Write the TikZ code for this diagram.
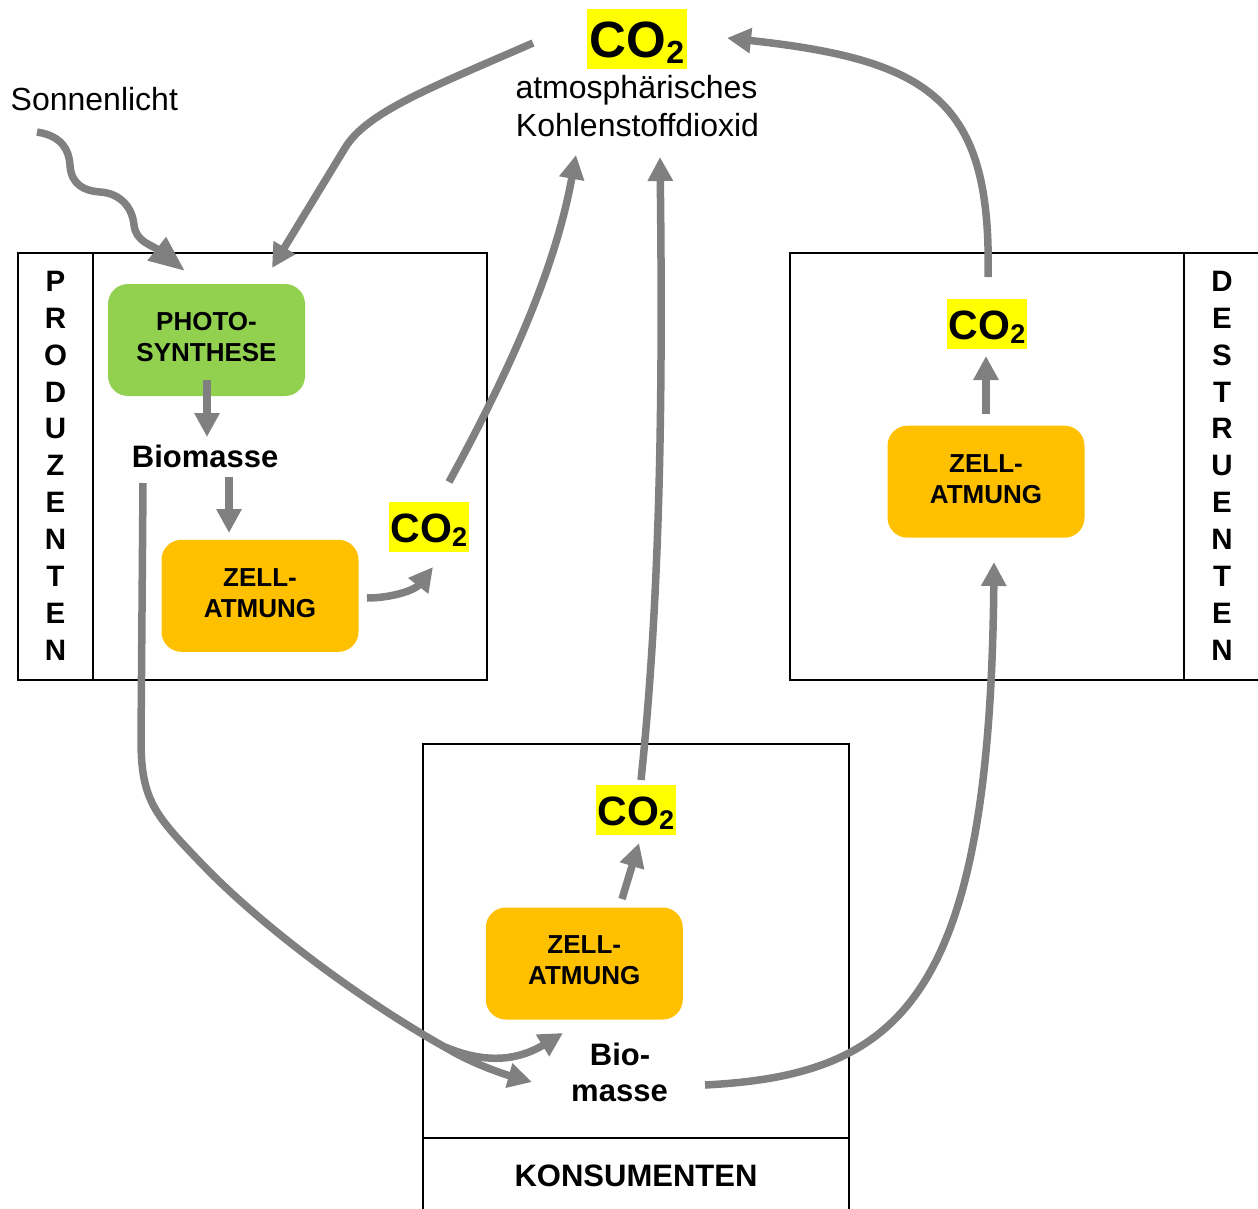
\documentclass[tikz,border=0pt]{standalone}
\usepackage{fontspec}
\setmainfont{Liberation Sans}
\usetikzlibrary{arrows.meta}
\definecolor{arrgray}{RGB}{128,128,128}
\definecolor{psgreen}{RGB}{146,208,80}
\definecolor{zaorange}{RGB}{255,192,0}
\definecolor{coyellow}{RGB}{255,255,0}
\newcommand{\cotwo}[1]{CO\raisebox{-0.1em}{\fontsize{#1}{#1}\selectfont 2}}
\begin{document}
\begin{tikzpicture}[x=1pt,y=-1pt,
  flow/.style={draw=arrgray, line width=7.5pt, -{Triangle[width=24pt,length=24pt]}},
  frame/.style={draw=black, line width=1.1pt},
  gbox/.style={fill=psgreen, rounded corners=20pt, minimum width=197pt, minimum height=112pt,
    inner sep=0pt, align=center, text depth=6pt, font=\fontsize{26}{31}\selectfont\bfseries},
  obox/.style={gbox, fill=zaorange},
  cobig/.style={fill=coyellow, inner sep=0pt, minimum width=100pt, minimum height=60pt,
    text height=44pt, text depth=6pt, font=\fontsize{51}{51}\selectfont\bfseries},
  cosmall/.style={fill=coyellow, inner sep=0pt, minimum width=80pt, minimum height=50pt,
    text height=37pt, text depth=7pt, font=\fontsize{41}{41}\selectfont\bfseries},
  txt/.style={inner sep=0pt, font=\fontsize{32}{37}\selectfont},
  btxt/.style={inner sep=0pt, font=\fontsize{31}{37}\selectfont\bfseries},
  vlab/.style={inner sep=0pt, align=center, font=\fontsize{29.5}{36.9}\selectfont\bfseries}
]
\clip (0,0) rectangle (1258,1209);

% frames
\draw[frame] (18,253) rectangle (487,680);
\draw[frame] (93,253) -- (93,680);
\draw[frame] (790,253) rectangle (1275,680);
\draw[frame] (1184,253) -- (1184,680);
\draw[frame] (423,744) rectangle (849,1230);
\draw[frame] (423,1138) -- (849,1138);

% labels of the groups
\node[vlab] (prodlab) at (55.5,465.7) {P\\R\\O\\D\\U\\Z\\E\\N\\T\\E\\N};
\node[vlab] (destlab) at (1222,465.7) {D\\E\\S\\T\\R\\U\\E\\N\\T\\E\\N};
\node[btxt, anchor=base] (konslab) at (636,1186) {KONSUMENTEN};

% process boxes
\node[gbox] (ps) at (206.5,340) {PHOTO-\\SYNTHESE};
\node[obox] (zp) at (260,595.8) {ZELL-\\ATMUNG};
\node[obox] (zd) at (986,481.7) {ZELL-\\ATMUNG};
\node[obox] (zk) at (584.3,963.5) {ZELL-\\ATMUNG};

% CO2 labels
\node[cobig] (ca) at (637,39) {\cotwo{32}};
\node[cosmall] (cp) at (429,527) {\cotwo{27}};
\node[cosmall] (cd) at (987,324) {\cotwo{27}};
\node[cosmall] (ck) at (636,810) {\cotwo{27}};

% texts
\node[txt, anchor=base] (atm1) at (636.5,98.3) {atmosphärisches};
\node[txt, anchor=base] (atm2) at (637.5,137) {Kohlenstoffdioxid};
\node[txt, anchor=base west] (sun) at (10.5,111) {Sonnenlicht};
\node[btxt, anchor=base] (biop) at (205.2,467.7) {Biomasse};
\node[btxt, anchor=base] (biok1) at (620,1065) {Bio-};
\node[btxt, anchor=base] (biok2) at (619.5,1101.7) {masse};

% connector end points
\coordinate (sunS) at (37,132);
\coordinate (sunT) at (185,271);
\coordinate (caOut) at (533,43);
\coordinate (psIn) at (272,268);
\coordinate (psOut) at (207,380);
\coordinate (biopIn) at (207,437);
\coordinate (biopOut) at (229,477);
\coordinate (zpIn) at (229,533);
\coordinate (zpOut) at (367,598);
\coordinate (cpIn) at (433,567);
\coordinate (cpOut) at (449,482);
\coordinate (caInP) at (576,155);
\coordinate (ckOut) at (641,780);
\coordinate (caInK) at (660,157);
\coordinate (cdOut) at (988,277);
\coordinate (caInD) at (727,38);
\coordinate (zdOut) at (986,414);
\coordinate (cdIn) at (986,356);
\coordinate (zkOut) at (622,899);
\coordinate (ckIn) at (639,843);
\coordinate (biopDown) at (143,483);
\coordinate (biokIn) at (532,1082);
\coordinate (split) at (445,1047);
\coordinate (zkIn) at (563,1033);
\coordinate (biokOut) at (705,1085);
\coordinate (zdIn) at (994,562);

% connectors
\draw[flow, -{Triangle[width=28pt,length=36pt]}] (sunS) .. controls (62,136) and (69,150) .. (70,165)
  .. controls (71,185) and (85,191) .. (100,192)
  .. controls (118,193) and (132,205) .. (134,225)
  .. controls (136,242) and (152,245) .. (sunT);
\draw[flow] (caOut) .. controls (430,88) and (367,112) .. (345,148) -- (psIn);
\draw[flow] (psOut) -- (biopIn);
\draw[flow] (biopOut) -- (zpIn);
\draw[flow] (zpOut) .. controls (392,598) and (415,590) .. (cpIn);
\draw[flow] (cpOut) .. controls (510,370) and (555,270) .. (caInP);
\draw[flow] (ckOut) .. controls (660,600) and (663,400) .. (caInK);
\draw[flow] (cdOut) .. controls (992,100) and (930,60) .. (caInD);
\draw[flow] (zdOut) -- (cdIn);
\draw[flow] (zkOut) -- (ckIn);
\draw[flow] (biopDown) -- (141,740) .. controls (141,800) and (155,815) .. (200,862)
  .. controls (260,925) and (360,1000) .. (450,1050)
  .. controls (470,1062) and (500,1073) .. (biokIn);
\draw[flow] (split) .. controls (490,1066) and (522,1058) .. (zkIn);
\draw[flow] (biokOut) .. controls (900,1075) and (990,1000) .. (zdIn);
\end{tikzpicture}
\end{document}
